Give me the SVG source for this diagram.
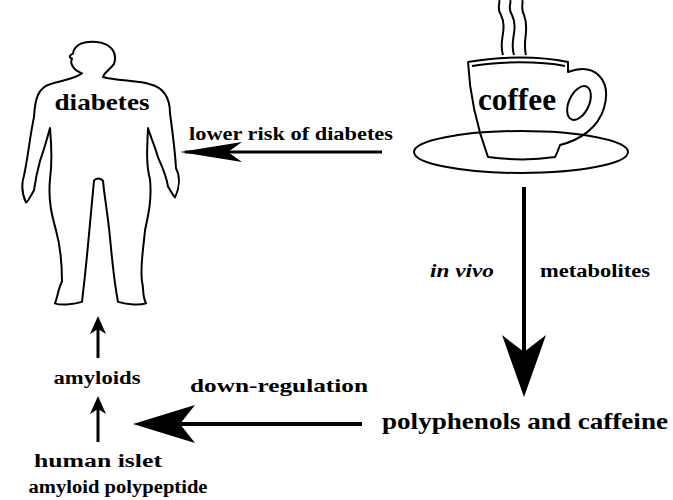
<svg xmlns="http://www.w3.org/2000/svg" width="673" height="500" viewBox="0 0 673 500">
<style>
text{font-family:"Liberation Serif",serif;font-weight:bold;fill:#000}
.o{fill:none;stroke:#000;stroke-width:2;stroke-linejoin:round}
.c{stroke:#000;stroke-width:3;fill:none}
</style>
<rect width="673" height="500" fill="#fff"/>
<g id="body">
<path class="o" transform="translate(0,11.3) scale(1,0.73)" vector-effect="non-scaling-stroke" d="M82,85 C72,80 70,70 72,65 C68,62 70,60 73,58 C74,45 85,40 97,42 C110,44 118,55 114,72 C110,80 104,84 103,90 C115,95 140,95 150,100 C165,105 170,120 170,140 C172,160 175,190 176,215 C180,225 180,240 175,255 C172,250 170,245 168,240 C167,230 163,215 158,200 C155,185 150,170 148,160 C147,190 146,210 150,230 C152,260 148,280 145,300 C143,330 140,350 142,370 C144,380 142,390 146,400 C140,403 128,402 118,398 C114,370 112,340 110,310 C108,280 104,250 103,232 C100,228 96,228 94,232 C92,260 90,290 88,320 C86,350 84,375 82,398 C72,402 60,403 55,400 C58,390 58,380 62,370 C62,350 60,320 56,300 C52,280 48,260 50,230 C52,210 52,190 50,160 C47,175 44,190 40,205 C37,220 35,235 34,245 C30,255 27,262 26,262 C22,250 21,238 24,225 C28,200 30,170 34,145 C35,120 38,105 50,100 C60,95 75,93 82,85 Z"/>
</g>
<g id="coffee">
<path class="o" d="M503,55 C498,40 508,30 501,15 C496,8 501,2 499,0 M514,55 C509,40 519,30 512,15 C507,8 512,2 510,0 M526,55 C522,40 530,30 524,15 C520,8 524,2 522,0"/>
<ellipse class="o" cx="521" cy="152" rx="107" ry="21"/>
<path class="o" d="M468,62 C500,56 540,56 568,62 L568,72 C595,62 612,80 604,108 C598,128 580,140 560,145 C558,150 557,154 555,157 C535,160 510,160 488,157 C478,130 470,100 468,62 Z"/>
<path class="o" d="M472,66 C500,61 540,61 565,66"/>
<ellipse class="o" cx="579" cy="103" rx="10" ry="18" transform="rotate(25 579 103)"/>
<text x="517" y="110" font-size="31" text-anchor="middle" textLength="78" lengthAdjust="spacingAndGlyphs">coffee</text>
</g>
<g id="labels">
<text x="102" y="110" font-size="23" text-anchor="middle" textLength="95" lengthAdjust="spacingAndGlyphs">diabetes</text>
<text x="291" y="140" font-size="19" text-anchor="middle" textLength="204" lengthAdjust="spacingAndGlyphs">lower risk of diabetes</text>
<text x="462" y="277" font-size="18" text-anchor="middle" font-style="italic" textLength="64" lengthAdjust="spacingAndGlyphs">in vivo</text>
<text x="595" y="277" font-size="18" text-anchor="middle" textLength="110" lengthAdjust="spacingAndGlyphs">metabolites</text>
<text x="525" y="429" font-size="23" text-anchor="middle" textLength="286" lengthAdjust="spacingAndGlyphs">polyphenols and caffeine</text>
<text x="279" y="392" font-size="19" text-anchor="middle" textLength="178" lengthAdjust="spacingAndGlyphs">down-regulation</text>
<text x="97" y="384" font-size="18" text-anchor="middle" textLength="87" lengthAdjust="spacingAndGlyphs">amyloids</text>
<text x="98" y="467" font-size="18" text-anchor="middle" textLength="128" lengthAdjust="spacingAndGlyphs">human islet</text>
<text x="118" y="493" font-size="18" text-anchor="middle" textLength="179" lengthAdjust="spacingAndGlyphs">amyloid polypeptide</text>
</g>
<g id="connectors">
<line class="c" x1="382" y1="152" x2="185" y2="152"/>
<path d="M180,152 L242,142 L228,152 L242,162 Z"/>
<line x1="524" y1="187" x2="524" y2="360" stroke="#000" stroke-width="4"/>
<path d="M524,397 L502,335 L524,352 L546,335 Z"/>
<line x1="362" y1="424" x2="170" y2="424" stroke="#000" stroke-width="4"/>
<path d="M133,424 L195,405 L180,424 L195,443 Z"/>
<line class="c" x1="98" y1="358" x2="98" y2="325"/>
<path d="M98,316 L90,334 L98,329 L106,334 Z"/>
<line class="c" x1="98" y1="442" x2="98" y2="405"/>
<path d="M98,396 L90,414 L98,409 L106,414 Z"/>
</g>
</svg>
